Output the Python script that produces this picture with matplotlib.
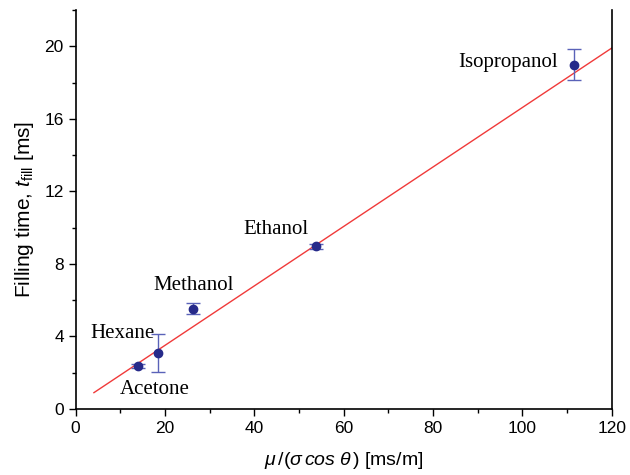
import matplotlib.pyplot as plt
from matplotlib.ticker import MultipleLocator

plt.rcParams['mathtext.fontset'] = 'custom'
plt.rcParams['mathtext.rm'] = 'Liberation Sans'
plt.rcParams['mathtext.it'] = 'Liberation Sans:italic'

# data
names = ['Acetone', 'Hexane', 'Methanol', 'Ethanol', 'Isopropanol']
xval = [14.0, 18.5, 26.3, 53.9, 111.6]
tfill = [2.36, 3.09, 5.53, 8.96, 18.99]
terr = [0.12, 1.07, 0.30, 0.12, 0.86]

# fitted line end points
fit_x = [4.1, 120.0]
fit_y = [0.90, 19.90]

# label anchor (left edge, vertical centre) in data coords
lab_x = [9.9, 3.2, 17.5, 37.5, 85.6]
lab_y = [1.05, 4.15, 6.8, 9.9, 19.1]

fig = plt.figure(figsize=(6.3, 4.75), dpi=100)
ax = fig.add_axes([0.120, 0.139, 0.851, 0.840])

ax.plot(fit_x, fit_y, color='#f03a3a', lw=1.0, zorder=2)
ax.errorbar(xval, tfill, yerr=terr, fmt='o', ms=6, color='#262a8a',
            ecolor='#5a62b8', elinewidth=1.0, capsize=5, capthick=1.0, zorder=3)

for n, lx, ly in zip(names, lab_x, lab_y):
    ax.text(lx, ly, n, family='Liberation Serif', fontsize=15, va='center', ha='left')

ax.set_xlim(0, 120)
ax.set_ylim(0, 22)
ax.xaxis.set_major_locator(MultipleLocator(20))
ax.xaxis.set_minor_locator(MultipleLocator(10))
ax.yaxis.set_major_locator(MultipleLocator(4))
ax.yaxis.set_minor_locator(MultipleLocator(2))
ax.tick_params(which='major', direction='out', length=5, width=1.0, labelsize=12.5)
ax.tick_params(which='minor', direction='out', length=3, width=1.0)
for lab in ax.get_xticklabels() + ax.get_yticklabels():
    lab.set_family('Liberation Sans')

ax.spines['top'].set_visible(False)
for s in ['left', 'bottom', 'right']:
    ax.spines[s].set_linewidth(1.2)

ax.set_xlabel(r'$\mu\,/(\sigma\, cos\;\theta\,)$ [ms/m]', family='Liberation Sans', fontsize=14, labelpad=10)
ax.set_ylabel(r'Filling time, $t_{\mathrm{fill}}$ [ms]', family='Liberation Sans', fontsize=15, labelpad=6)

fig.savefig('out.png', dpi=100)
